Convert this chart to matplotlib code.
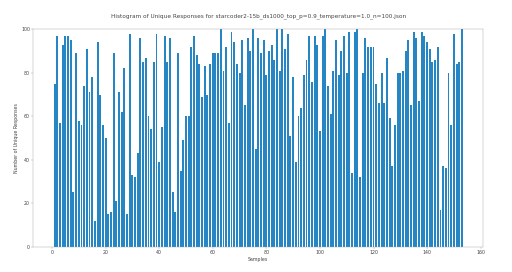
#!/usr/bin/env python3
"""Histogram of unique responses per sample."""

import matplotlib
matplotlib.use('Agg')
import matplotlib.pyplot as plt
import numpy as np

# Data: unique responses for samples 1..153
unique_counts = [
    75, 97, 57, 93, 97, 97, 95, 25, 89, 58,
    56, 74, 91, 71, 78, 12, 94, 70, 56, 50,
    15, 16, 89, 21, 71, 62, 82, 15, 98, 33,
    32, 43, 96, 85, 87, 60, 54, 85, 98, 39,
    55, 97, 85, 96, 25, 16, 89, 35, 49, 60,
    60, 92, 97, 88, 84, 69, 83, 70, 84, 89,
    89, 89, 100, 81, 92, 57, 99, 94, 84, 80,
    95, 65, 96, 90, 100, 45, 96, 89, 95, 79,
    90, 93, 86, 100, 81, 100, 91, 98, 51, 78,
    39, 60, 64, 79, 86, 97, 76, 97, 93, 53,
    97, 100, 74, 61, 81, 95, 79, 90, 97, 80,
    99, 34, 99, 100, 32, 80, 96, 92, 92, 92,
    75, 66, 80, 66, 87, 59, 37, 56, 80, 80,
    81, 90, 95, 65, 99, 96, 67, 99, 97, 94,
    91, 85, 86, 92, 17, 37, 36, 80, 56, 98,
    84, 85, 100,
]
samples = np.arange(1, len(unique_counts) + 1)

text_color = '#444444'
axis_color = '#999999'
plt.rcParams['text.color'] = text_color
plt.rcParams['axes.labelcolor'] = text_color
plt.rcParams['xtick.color'] = axis_color
plt.rcParams['ytick.color'] = axis_color
plt.rcParams['xtick.labelcolor'] = text_color
plt.rcParams['ytick.labelcolor'] = text_color
plt.rcParams['axes.edgecolor'] = axis_color

fig = plt.figure(figsize=(15, 7.97))
ax = fig.add_axes([0.065, 0.093, 0.879, 0.799])

ax.bar(samples, unique_counts, width=0.72, color='#2686c4')
ax.set_ylim(0, 100)

ax.set_title('Histogram of Unique Responses for starcoder2-15b_ds1000_top_p=0.9_temperature=1.0_n=100.json',
             pad=26)
ax.set_xlabel('Samples')
ax.set_ylabel('Number of Unique Responses')

plt.savefig('out.png', dpi=512 / 15)
